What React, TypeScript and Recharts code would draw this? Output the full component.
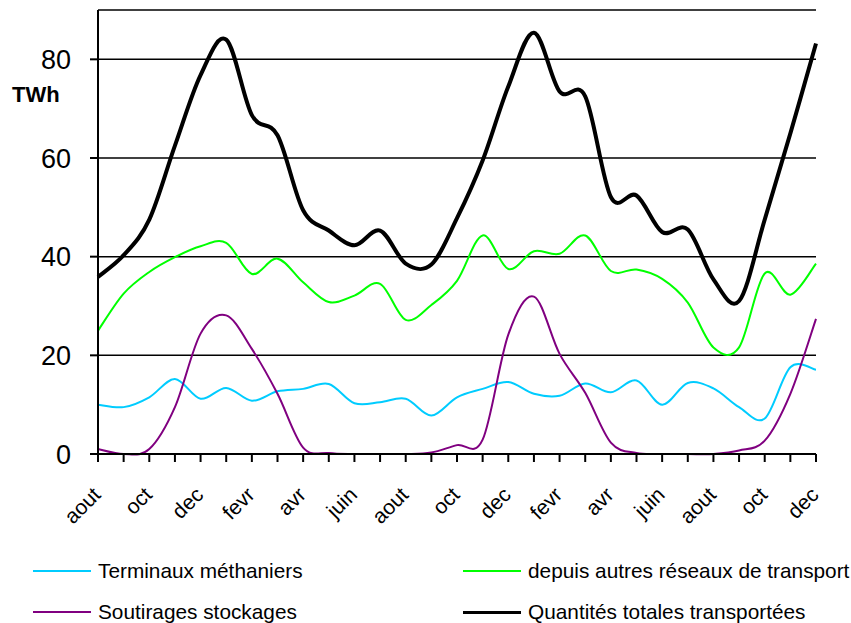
import { LineChart, Line, XAxis, YAxis, CartesianGrid } from 'recharts';

const months = [
  'aout', 'sept', 'oct', 'nov', 'dec', 'janv', 'fevr', 'mars', 'avr', 'mai', 'juin', 'juil',
  'aout', 'sept', 'oct', 'nov', 'dec', 'janv', 'fevr', 'mars', 'avr', 'mai', 'juin', 'juil',
  'aout', 'sept', 'oct', 'nov', 'dec',
];

const terminaux = [10, 9.5, 11.5, 15.2, 11.2, 13.4, 10.8, 12.7, 13.2, 14.2, 10.3, 10.5, 11.2, 7.8, 11.5, 13.2, 14.6, 12.2, 11.8, 14.3, 12.5, 14.9, 10, 14.4, 13.3, 9.5, 7.2, 17.6, 17.1];
const autresReseaux = [25, 32.5, 36.9, 39.9, 42.1, 42.8, 36.5, 39.6, 34.8, 30.8, 32.1, 34.5, 27.2, 30.2, 35.1, 44.3, 37.5, 41.1, 40.6, 44.3, 37.1, 37.4, 35.5, 30.7, 21.6, 21.6, 36.6, 32.3, 38.6];
const soutirages = [1, 0, 1, 9.5, 24.4, 28.1, 21.3, 12.2, 1.3, 0.2, 0, 0, 0, 0.3, 1.8, 2.9, 24.2, 31.9, 20.3, 12.4, 2.3, 0.2, 0, 0, 0, 0.7, 2.7, 12.2, 27.4];
const totales = [35.9, 40.3, 47.5, 62.5, 76.8, 84, 68.7, 64.6, 49.4, 45.3, 42.3, 45.3, 38.6, 38.4, 47.8, 59.5, 74.5, 85.4, 73.5, 72.5, 52.1, 52.4, 45, 45.5, 35.4, 31, 47.5, 65, 83.2];

const yTicks = [0, 20, 40, 60, 80];

const data = months.map((m, i) => ({
  m,
  terminaux: terminaux[i],
  autres: autresReseaux[i],
  soutirages: soutirages[i],
  totales: totales[i],
}));

const series = [
  { key: 'terminaux', name: 'Terminaux méthaniers', color: '#00CCFF', width: 2 },
  { key: 'autres', name: 'depuis autres réseaux de transport', color: '#00FF00', width: 2 },
  { key: 'soutirages', name: 'Soutirages stockages', color: '#800080', width: 2 },
  { key: 'totales', name: 'Quantités totales transportées', color: '#000000', width: 4 },
];

const FONT = '"Liberation Sans", Arial, sans-serif';

// Excel-like smoothed line (Catmull-Rom through the points)
function smoothCurve(context: any) {
  let pts: number[][] = [];
  return {
    areaStart() {},
    areaEnd() {},
    lineStart() { pts = []; },
    point(x: number, y: number) { pts.push([+x, +y]); },
    lineEnd() {
      const n = pts.length;
      if (!n) return;
      context.moveTo(pts[0][0], pts[0][1]);
      for (let i = 0; i < n - 1; i++) {
        const p0 = pts[i - 1] || pts[i];
        const p1 = pts[i];
        const p2 = pts[i + 1];
        const p3 = pts[i + 2] || p2;
        context.bezierCurveTo(
          p1[0] + (p2[0] - p0[0]) / 6, p1[1] + (p2[1] - p0[1]) / 6,
          p2[0] - (p3[0] - p1[0]) / 6, p2[1] - (p3[1] - p1[1]) / 6,
          p2[0], p2[1],
        );
      }
    },
  };
}

function MonthTick(props: any) {
  const { x, y, index, payload } = props;
  if (index % 2 !== 0) return null;
  const ax = x + 4;
  const ay = y + 34;
  return (
    <text x={ax} y={ay} textAnchor="end" fontSize={21} fontFamily={FONT} fill="#000"
      transform={`rotate(-45, ${ax}, ${ay})`}>
      {payload.value}
    </text>
  );
}

export default function App() {
  return (
    <div style={{ position: 'absolute', left: 0, top: 0, width: 851, height: 623, background: '#fff', fontFamily: FONT }}>
      <LineChart width={851} height={623} data={data} margin={{ top: 10, right: 35, bottom: 0, left: 0 }}>
        <CartesianGrid vertical={false} stroke="#000" strokeWidth={1.5} />
        <XAxis
          dataKey="m"
          interval={0}
          tick={<MonthTick />}
          tickSize={8}
          tickMargin={0}
          height={169}
          axisLine={{ stroke: '#000', strokeWidth: 2 }}
          tickLine={{ stroke: '#000', strokeWidth: 2 }}
        />
        <YAxis
          domain={[0, 90]}
          ticks={yTicks}
          width={98}
          tickSize={8}
          tickMargin={19}
          tick={{ fontSize: 27, fill: '#000', fontFamily: FONT }}
          axisLine={{ stroke: '#000', strokeWidth: 2 }}
          tickLine={{ stroke: '#000', strokeWidth: 2 }}
        />
        {series.map(s => (
          <Line
            key={s.key}
            dataKey={s.key}
            name={s.name}
            type={smoothCurve as any}
            stroke={s.color}
            strokeWidth={s.width}
            dot={false}
            activeDot={false}
            isAnimationActive={false}
          />
        ))}
      </LineChart>
      <div style={{ position: 'absolute', left: 12, top: 82, fontSize: 22, fontWeight: 'bold', lineHeight: '26px' }}>
        TWh
      </div>
      {series.map((s, i) => (
        <div key={s.key} style={{
          position: 'absolute',
          left: i % 2 === 0 ? 33 : 463,
          top: (i < 2 ? 571 : 612) - 13,
          height: 26,
          display: 'flex',
          alignItems: 'center',
          fontSize: 20.8,
          whiteSpace: 'nowrap',
        }}>
          <div style={{ width: 58, height: s.key === 'totales' ? 3 : 2, background: s.color, marginRight: 7 }} />
          <span>{s.name}</span>
        </div>
      ))}
    </div>
  );
}
